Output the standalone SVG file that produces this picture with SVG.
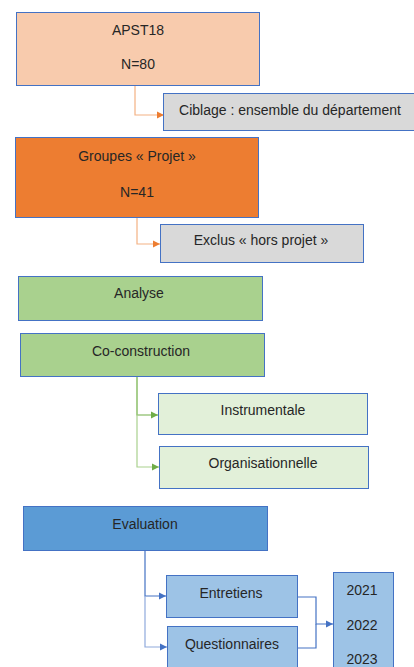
<svg xmlns="http://www.w3.org/2000/svg" width="414" height="667" viewBox="0 0 414 667">
<style>
text{font-family:"Liberation Sans","Noto Sans",sans-serif;font-size:14px;fill:#262626;text-anchor:middle}
.b{stroke:#4472C4;stroke-width:1}
.c{fill:none;stroke-width:1.2}
</style>
<defs>
<marker id="ao" markerWidth="8" markerHeight="8" refX="7" refY="4" orient="auto" markerUnits="userSpaceOnUse"><path d="M0,0.5 L7,4 L0,7.5 Z" fill="#ED7D31"/></marker>
<marker id="ag" markerWidth="8" markerHeight="8" refX="7" refY="4" orient="auto" markerUnits="userSpaceOnUse"><path d="M0,0.5 L7,4 L0,7.5 Z" fill="#70AD47"/></marker>
<marker id="ab" markerWidth="8" markerHeight="8" refX="7" refY="4" orient="auto" markerUnits="userSpaceOnUse"><path d="M0,0.5 L7,4 L0,7.5 Z" fill="#4472C4"/></marker>
</defs>
<rect width="414" height="667" fill="#fff"/>
<g id="connectors">
<path class="c" d="M135,85 V115 H164" stroke="#F4B183" marker-end="url(#ao)"/>
<path class="c" d="M137,217 V244 H160" stroke="#F4B183" marker-end="url(#ao)"/>
<path class="c" d="M137,376 V415 H158" stroke="#70AD47" marker-end="url(#ag)"/>
<path class="c" d="M137,376 V467 H159" stroke="#A9D18E" marker-end="url(#ag)"/>
<path class="c" d="M145,550 V596 H166" stroke="#4472C4" marker-end="url(#ab)"/>
<path class="c" d="M145,596 V647 H167" stroke="#8FAADC" marker-end="url(#ab)"/>
<path class="c" d="M297,597 H316 V624 H333" stroke="#4472C4" marker-end="url(#ab)"/>
<path class="c" d="M297,648 H316 V624" stroke="#4472C4"/>
</g>
<g id="apst18">
<rect class="b" x="16.5" y="12.5" width="243" height="73" fill="#F8CBAD"/>
<text x="138" y="35">APST18</text>
<text x="138" y="69">N=80</text>
</g>
<g id="ciblage">
<rect class="b" x="163.5" y="93.5" width="252" height="37" fill="#D9D9D9"/>
<text x="290" y="115">Ciblage : ensemble du département</text>
</g>
<g id="groupes">
<rect class="b" x="15.5" y="137.5" width="243" height="80" fill="#ED7D31"/>
<text x="137" y="161">Groupes « Projet »</text>
<text x="137" y="197">N=41</text>
</g>
<g id="exclus">
<rect class="b" x="160.5" y="224.5" width="203" height="38" fill="#D9D9D9"/>
<text x="261" y="245">Exclus « hors projet »</text>
</g>
<g id="analyse">
<rect class="b" x="18.5" y="276.5" width="244" height="44" fill="#A9D18E"/>
<text x="139" y="298">Analyse</text>
</g>
<g id="coconstruction">
<rect class="b" x="20.5" y="333.5" width="244" height="43" fill="#A9D18E"/>
<text x="141" y="356">Co-construction</text>
</g>
<g id="instrumentale">
<rect class="b" x="158.5" y="393.5" width="209" height="41" fill="#E2F0D9"/>
<text x="263" y="415">Instrumentale</text>
</g>
<g id="organisationnelle">
<rect class="b" x="159.5" y="446.5" width="209" height="42" fill="#E2F0D9"/>
<text x="263" y="468">Organisationnelle</text>
</g>
<g id="evaluation">
<rect class="b" x="23.5" y="506.5" width="244" height="44" fill="#5B9BD5"/>
<text x="145" y="529">Evaluation</text>
</g>
<g id="entretiens">
<rect class="b" x="166.5" y="575.5" width="131" height="42" fill="#9DC3E6"/>
<text x="231" y="598">Entretiens</text>
</g>
<g id="questionnaires">
<rect class="b" x="167.5" y="626.5" width="130" height="50" fill="#9DC3E6"/>
<text x="232" y="649">Questionnaires</text>
</g>
<g id="years">
<rect class="b" x="333.5" y="572.5" width="60" height="110" fill="#9DC3E6"/>
<text x="362" y="595">2021</text>
<text x="362" y="630">2022</text>
<text x="362" y="664">2023</text>
</g>
</svg>
